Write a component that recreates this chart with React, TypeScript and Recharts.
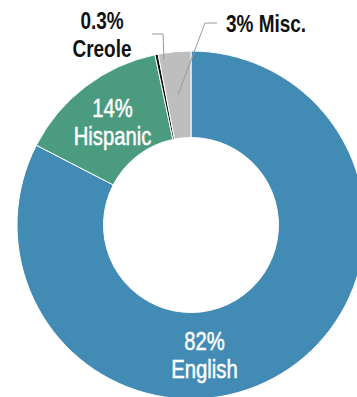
import React from "react";
import { Cell, Pie, PieChart } from "recharts";

const languages = ["English", "Hispanic", "Creole", "Misc."];
const shares = [82, 14, 0.3, 3];
const shareLabels = ["82%", "14%", "0.3%", "3%"];

const colors = ["#428bb5", "#4b9b80", "#111111", "#bdbebd"];

// label placement relative to the pie centre
const labelLayout = [
  { dx: 13.5, dy: 125, color: "#ffffff", bold: false, inline: false },
  { dx: -78.5, dy: -108, color: "#ffffff", bold: false, inline: false },
  { dx: -89, dy: -196, color: "#111111", bold: true, inline: false },
  { dx: 35, dy: -193, color: "#111111", bold: true, inline: true },
];

const leaders: Record<number, [number, number][]> = {
  2: [
    [-39, -191],
    [-28, -191],
    [-27, -165],
  ],
  3: [
    [26, -202],
    [14, -202],
    [-13, -130],
  ],
};

const data = languages.map((name, i) => ({ name, value: shares[i] }));

const FONT = '"Liberation Sans", Arial, sans-serif';

function renderLabel(props: any) {
  const { cx, cy, index } = props;
  const l = labelLayout[index];
  const x = cx + l.dx;
  const y = cy + l.dy;
  const pts = leaders[index];
  const path = pts
    ? pts.map((p, i) => `${i ? "L" : "M"}${cx + p[0]},${cy + p[1]}`).join(" ")
    : null;
  // condensed face: squeeze the regular sans horizontally
  const sx = l.bold ? 0.79 : 0.81;
  const common = {
    transform: `translate(${x} ${y}) scale(${sx} 1)`,
    fill: l.color,
    stroke: l.bold ? "none" : l.color,
    strokeWidth: l.bold ? 0 : 0.5,
    fontFamily: FONT,
    fontSize: l.bold ? 24 : 25,
    fontWeight: l.bold ? 700 : 400,
  };
  return (
    <g key={`lbl-${index}`}>
      {path && <path d={path} stroke="#9a9a9a" strokeWidth={1} fill="none" />}
      {l.inline ? (
        <text {...common} x={0} y={0} textAnchor="start">
          {`${shareLabels[index]} ${languages[index]}`}
        </text>
      ) : (
        <text {...common} x={0} y={0} textAnchor="middle">
          <tspan x={0} y={0}>{shareLabels[index]}</tspan>
          <tspan x={0} y={28}>{languages[index]}</tspan>
        </text>
      )}
    </g>
  );
}

export default function App() {
  return (
    <div style={{ position: "absolute", left: 0, top: 0, width: 357, height: 397, background: "#fff" }}>
      <PieChart width={357} height={397}>
        <Pie
          data={data}
          dataKey="value"
          nameKey="name"
          cx={186}
          cy={220}
          innerRadius={87.5}
          outerRadius={174}
          startAngle={90}
          endAngle={-270}
          stroke="#ffffff"
          strokeWidth={1}
          label={renderLabel}
          labelLine={false}
          isAnimationActive={false}
        >
          {data.map((d, i) => (
            <Cell key={d.name} fill={colors[i]} />
          ))}
        </Pie>
      </PieChart>
    </div>
  );
}
